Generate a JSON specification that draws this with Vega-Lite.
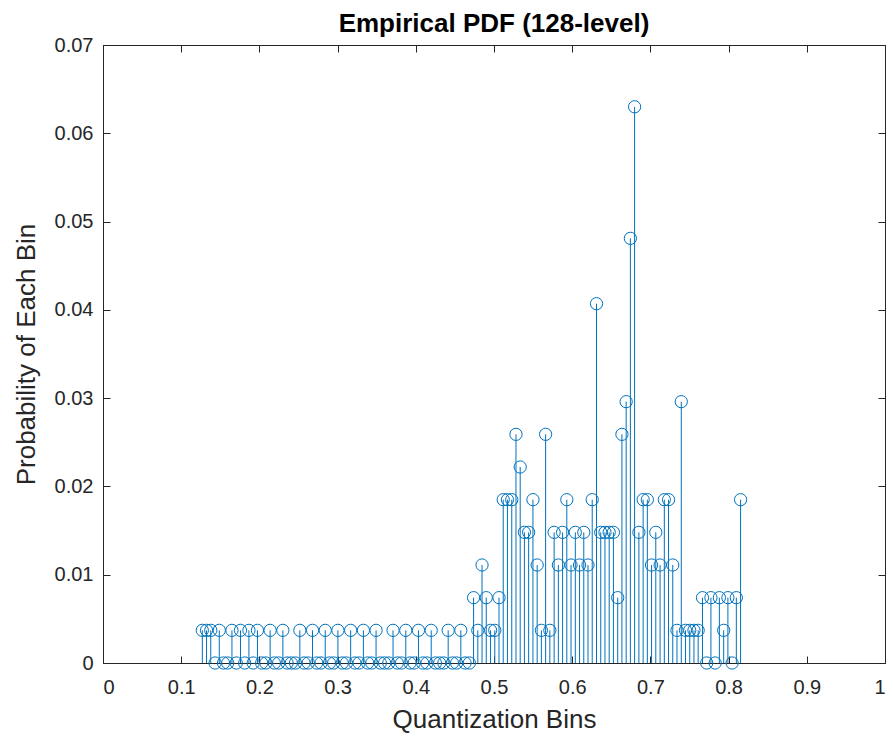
{
  "$schema": "https://vega.github.io/schema/vega-lite/v6.json",
  "width": 782,
  "height": 618,
  "autosize": "none",
  "padding": {"left": 103, "top": 45, "right": 8, "bottom": 78},
  "background": "white",
  "title": {"text": "Empirical PDF (128-level)", "fontSize": 26, "fontWeight": "bold", "font": "Liberation Sans", "color": "#000000", "offset": -2},
  "data": {"values": [
    {"x": 0.1270, "p": 0.0037}, {"x": 0.1324, "p": 0.0037}, {"x": 0.1378, "p": 0.0037}, {"x": 0.1433, "p": 0},
    {"x": 0.1487, "p": 0.0037}, {"x": 0.1541, "p": 0}, {"x": 0.1595, "p": 0}, {"x": 0.1649, "p": 0.0037},
    {"x": 0.1704, "p": 0}, {"x": 0.1758, "p": 0.0037}, {"x": 0.1812, "p": 0}, {"x": 0.1866, "p": 0.0037},
    {"x": 0.1920, "p": 0}, {"x": 0.1975, "p": 0.0037}, {"x": 0.2029, "p": 0}, {"x": 0.2083, "p": 0},
    {"x": 0.2137, "p": 0.0037}, {"x": 0.2191, "p": 0}, {"x": 0.2246, "p": 0}, {"x": 0.2300, "p": 0.0037},
    {"x": 0.2354, "p": 0}, {"x": 0.2408, "p": 0}, {"x": 0.2462, "p": 0}, {"x": 0.2517, "p": 0.0037},
    {"x": 0.2571, "p": 0}, {"x": 0.2625, "p": 0}, {"x": 0.2679, "p": 0.0037}, {"x": 0.2733, "p": 0},
    {"x": 0.2788, "p": 0}, {"x": 0.2842, "p": 0.0037}, {"x": 0.2896, "p": 0}, {"x": 0.2950, "p": 0},
    {"x": 0.3004, "p": 0.0037}, {"x": 0.3059, "p": 0}, {"x": 0.3113, "p": 0}, {"x": 0.3167, "p": 0.0037},
    {"x": 0.3221, "p": 0}, {"x": 0.3275, "p": 0}, {"x": 0.3330, "p": 0.0037}, {"x": 0.3384, "p": 0},
    {"x": 0.3438, "p": 0}, {"x": 0.3492, "p": 0.0037}, {"x": 0.3546, "p": 0}, {"x": 0.3601, "p": 0},
    {"x": 0.3655, "p": 0}, {"x": 0.3709, "p": 0.0037}, {"x": 0.3763, "p": 0}, {"x": 0.3817, "p": 0},
    {"x": 0.3872, "p": 0.0037}, {"x": 0.3926, "p": 0}, {"x": 0.3980, "p": 0}, {"x": 0.4034, "p": 0.0037},
    {"x": 0.4088, "p": 0}, {"x": 0.4143, "p": 0}, {"x": 0.4197, "p": 0.0037}, {"x": 0.4251, "p": 0},
    {"x": 0.4305, "p": 0}, {"x": 0.4359, "p": 0}, {"x": 0.4414, "p": 0.0037}, {"x": 0.4468, "p": 0},
    {"x": 0.4522, "p": 0}, {"x": 0.4576, "p": 0.0037}, {"x": 0.4630, "p": 0}, {"x": 0.4685, "p": 0},
    {"x": 0.4739, "p": 0.0074}, {"x": 0.4793, "p": 0.0037}, {"x": 0.4847, "p": 0.0111}, {"x": 0.4901, "p": 0.0074},
    {"x": 0.4956, "p": 0.0037}, {"x": 0.5010, "p": 0.0037}, {"x": 0.5064, "p": 0.0074}, {"x": 0.5118, "p": 0.0185},
    {"x": 0.5172, "p": 0.0185}, {"x": 0.5227, "p": 0.0185}, {"x": 0.5281, "p": 0.0259}, {"x": 0.5335, "p": 0.0222},
    {"x": 0.5389, "p": 0.0148}, {"x": 0.5443, "p": 0.0148}, {"x": 0.5498, "p": 0.0185}, {"x": 0.5552, "p": 0.0111},
    {"x": 0.5606, "p": 0.0037}, {"x": 0.5660, "p": 0.0259}, {"x": 0.5714, "p": 0.0037}, {"x": 0.5769, "p": 0.0148},
    {"x": 0.5823, "p": 0.0111}, {"x": 0.5877, "p": 0.0148}, {"x": 0.5931, "p": 0.0185}, {"x": 0.5985, "p": 0.0111},
    {"x": 0.6040, "p": 0.0148}, {"x": 0.6094, "p": 0.0111}, {"x": 0.6148, "p": 0.0148}, {"x": 0.6202, "p": 0.0111},
    {"x": 0.6256, "p": 0.0185}, {"x": 0.6311, "p": 0.0407}, {"x": 0.6365, "p": 0.0148}, {"x": 0.6419, "p": 0.0148},
    {"x": 0.6473, "p": 0.0148}, {"x": 0.6527, "p": 0.0148}, {"x": 0.6582, "p": 0.0074}, {"x": 0.6636, "p": 0.0259},
    {"x": 0.6690, "p": 0.0296}, {"x": 0.6744, "p": 0.0481}, {"x": 0.6798, "p": 0.063}, {"x": 0.6853, "p": 0.0148},
    {"x": 0.6907, "p": 0.0185}, {"x": 0.6961, "p": 0.0185}, {"x": 0.7015, "p": 0.0111}, {"x": 0.7069, "p": 0.0148},
    {"x": 0.7124, "p": 0.0111}, {"x": 0.7178, "p": 0.0185}, {"x": 0.7232, "p": 0.0185}, {"x": 0.7286, "p": 0.0111},
    {"x": 0.7340, "p": 0.0037}, {"x": 0.7395, "p": 0.0296}, {"x": 0.7449, "p": 0.0037}, {"x": 0.7503, "p": 0.0037},
    {"x": 0.7557, "p": 0.0037}, {"x": 0.7611, "p": 0.0037}, {"x": 0.7666, "p": 0.0074}, {"x": 0.7720, "p": 0},
    {"x": 0.7774, "p": 0.0074}, {"x": 0.7828, "p": 0}, {"x": 0.7882, "p": 0.0074}, {"x": 0.7937, "p": 0.0037},
    {"x": 0.7991, "p": 0.0074}, {"x": 0.8045, "p": 0}, {"x": 0.8099, "p": 0.0074}, {"x": 0.8153, "p": 0.0185}
  ]},
  "layer": [
    {
      "mark": {"type": "rule", "color": "#0072BD", "strokeWidth": 1},
      "encoding": {
        "x": {"field": "x", "type": "quantitative", "scale": {"domain": [0, 1], "nice": false, "zero": false},
          "axis": {"orient": "bottom", "values": [0, 0.1, 0.2, 0.3, 0.4, 0.5, 0.6, 0.7, 0.8, 0.9, 1], "format": "~g", "title": "Quantization Bins", "titlePadding": 9, "labelPadding": 21}},
        "y": {"field": "p", "type": "quantitative", "scale": {"domain": [0, 0.07], "nice": false},
          "axis": {"orient": "left", "values": [0, 0.01, 0.02, 0.03, 0.04, 0.05, 0.06, 0.07], "format": "~g", "title": "Probability of Each Bin", "titlePadding": 15, "labelPadding": 17}},
        "y2": {"datum": 0}
      }
    },
    {
      "mark": {"type": "point", "shape": "circle", "filled": false, "color": "#0072BD", "size": 150, "strokeWidth": 1, "opacity": 1},
      "encoding": {
        "x": {"field": "x", "type": "quantitative", "axis": {"orient": "top", "values": [0, 0.1, 0.2, 0.3, 0.4, 0.5, 0.6, 0.7, 0.8, 0.9, 1], "labels": false, "title": null, "domain": false}},
        "y": {"field": "p", "type": "quantitative", "axis": {"orient": "right", "values": [0, 0.01, 0.02, 0.03, 0.04, 0.05, 0.06, 0.07], "labels": false, "title": null, "domain": false}}
      }
    }
  ],
  "resolve": {"axis": {"x": "independent", "y": "independent"}},
  "config": {
    "view": {"stroke": "#262626", "strokeWidth": 1},
    "axis": {
      "grid": false,
      "domainColor": "#262626",
      "domainWidth": 1,
      "tickColor": "#262626",
      "tickSize": -7,
      "tickWidth": 1,
      "labelFont": "Liberation Sans",
      "labelFontSize": 20,
      "labelColor": "#262626",
      "titleFont": "Liberation Sans",
      "titleFontSize": 26,
      "titleFontWeight": "normal",
      "titleColor": "#262626"
    }
  }
}
